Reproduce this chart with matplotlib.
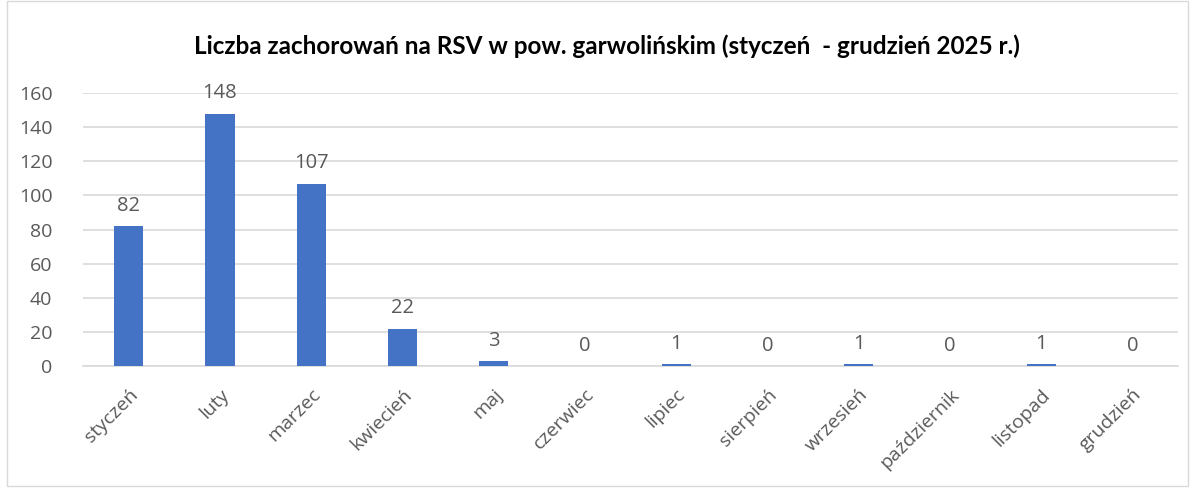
import matplotlib.pyplot as plt
from matplotlib.patches import Rectangle
import numpy as np

months = ['styczeń', 'luty', 'marzec', 'kwiecień', 'maj', 'czerwiec', 'lipiec',
          'sierpień', 'wrzesień', 'październik', 'listopad', 'grudzień']
cases = [82, 148, 107, 22, 3, 0, 1, 0, 1, 0, 1, 0]
yticks = [0, 20, 40, 60, 80, 100, 120, 140, 160]

plt.rcParams['font.family'] = ['Open Sans', 'DejaVu Sans']
gray = '#595959'

fig = plt.figure(figsize=(11.95, 4.9), dpi=100)
ax = fig.add_axes([0.0695, 0.253, 0.9163, 0.557])

x = np.arange(len(months))
bars = ax.bar(x, cases, width=0.32, color='#4472C4', zorder=3)
for xi, v in zip(x, cases):
    ax.text(xi, v + 6, str(v), ha='center', va='bottom', fontsize=14.5, color=gray)

ax.set_xlim(-0.5, len(months) - 0.5)
ax.set_ylim(0, 160)
ax.set_yticks(yticks)
ax.set_yticklabels([str(t) for t in yticks], fontsize=14, color=gray)
ax.set_xticks(x)
ax.set_xticklabels(months, rotation=45, ha='right', rotation_mode='anchor',
                   fontsize=14, color=gray)
ax.tick_params(axis='both', length=0)
ax.tick_params(axis='x', pad=14)
ax.tick_params(axis='y', pad=22)
ax.yaxis.grid(True, color='#D9D9D9', linewidth=1.2, zorder=0)
for s in ['top', 'right', 'left']:
    ax.spines[s].set_visible(False)
ax.spines['bottom'].set_color('#D9D9D9')
ax.spines['bottom'].set_linewidth(1.2)

fig.text(0.508, 0.905, 'Liczba zachorowań na RSV w pow. garwolińskim (styczeń  - grudzień 2025 r.)',
         ha='center', va='center', fontsize=17.5, fontweight='bold', color='black',
         family=['Lato', 'DejaVu Sans'])

fig.patches.append(Rectangle((0.006, 0.008), 0.988, 0.99, transform=fig.transFigure,
                             fill=False, edgecolor='#D9D9D9', linewidth=1))

fig.savefig('out.png', dpi=100)
